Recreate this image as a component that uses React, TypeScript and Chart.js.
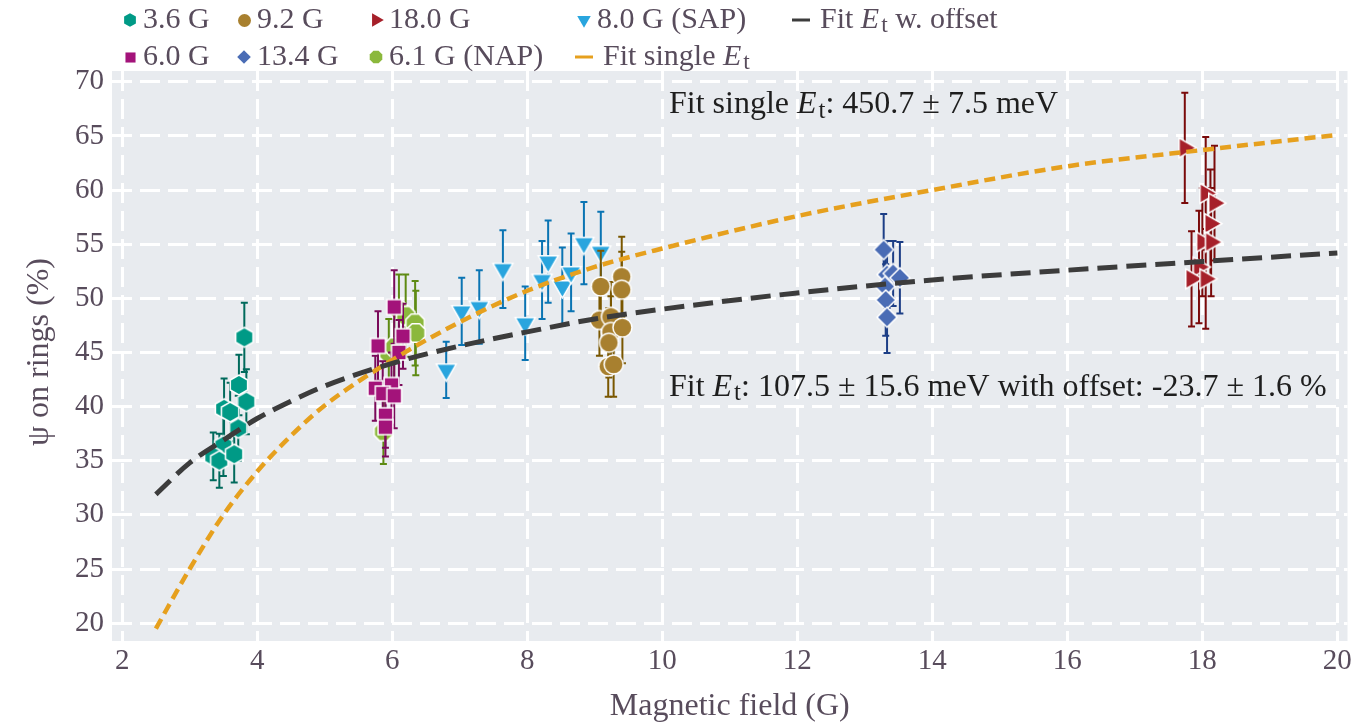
import React, { useEffect, useRef } from 'react';
import { Chart, registerables } from 'chart.js';

Chart.register(...registerables);

const FONT = "'Liberation Serif', 'DejaVu Serif', serif";
const TXT = '#584c5c';

const xTicks = [2, 4, 6, 8, 10, 12, 14, 16, 18, 20];
const yTicks = [20, 25, 30, 35, 40, 45, 50, 55, 60, 65, 70];

// 3.6 G
const g36X = [3.81, 3.73, 3.84, 3.51, 3.6, 3.72, 3.5, 3.35, 3.44, 3.66];
const g36Y = [46.4, 42.0, 40.45, 39.8, 39.5, 38.0, 36.4, 35.4, 35.0, 35.6];
const g36Err = [3.2, 2.8, 3.0, 2.8, 2.7, 3.0, 2.8, 2.2, 2.5, 2.6];
// 6.0 G
const g60X = [6.03, 6.16, 5.79, 6.1, 5.75, 5.99, 5.86, 6.03, 5.9, 5.9];
const g60Y = [49.2, 46.5, 45.6, 45.0, 41.7, 42.0, 41.2, 41.0, 39.2, 38.1];
const g60Err = [3.4, 3.0, 3.2, 3.0, 3.0, 3.0, 3.0, 3.0, 3.0, 2.7];
// 9.2 G
const g92X = [9.09, 9.4, 9.4, 9.07, 9.24, 9.24, 9.41, 9.21, 9.2, 9.28];
const g92Y = [51.1, 52.0, 50.8, 48.0, 48.3, 46.9, 47.3, 45.9, 43.7, 43.9];
const g92Err = [3.3, 3.7, 3.5, 3.3, 3.2, 3.3, 3.3, 3.2, 2.8, 3.0];
// 13.4 G
const g134X = [13.28, 13.33, 13.42, 13.52, 13.3, 13.31, 13.33];
const g134Y = [54.5, 52.2, 52.3, 51.9, 51.1, 49.85, 48.25];
const g134Err = [3.3, 3.1, 3.0, 3.3, 3.2, 3.3, 3.3];
// 18.0 G
const g180X = [17.74, 18.05, 18.18, 18.12, 18.0, 18.13, 17.95, 17.84, 18.05];
const g180Y = [63.9, 59.7, 58.8, 56.9, 55.2, 55.2, 52.9, 51.8, 51.8];
const g180Err = [5.1, 5.2, 5.3, 5.0, 5.0, 5.0, 5.2, 4.4, 4.6];
// 6.1 G (NAP)
const napX = [5.87, 5.95, 6.03, 6.1, 6.2, 6.34, 6.35];
const napY = [37.7, 44.9, 45.5, 48.9, 48.4, 47.7, 46.8];
const napErr = [3.0, 3.2, 3.0, 3.3, 3.8, 3.9, 3.9];
// 8.0 G (SAP)
const sapX = [6.8, 7.03, 7.29, 7.64, 7.97, 8.22, 8.31, 8.52, 8.65, 8.84, 9.09];
const sapY = [43.4, 48.8, 49.2, 52.7, 47.7, 51.7, 53.4, 51.1, 52.4, 55.1, 54.3];
const sapErr = [2.6, 3.1, 3.4, 3.6, 3.4, 3.6, 3.8, 3.6, 3.6, 3.8, 3.7];

// Fit curves
const fitX = [2.5, 3, 3.5, 4, 4.5, 5, 6, 7, 8, 9, 10, 12, 14, 16, 18, 20];
const fitOffsetY = [31.9, 34.8, 36.9, 38.9, 40.5, 41.9, 44.0, 45.6, 46.9, 48.1, 49.0, 50.5, 51.7, 52.6, 53.4, 54.2];
const fitSingleY = [19.5, 25.0, 30.0, 34.0, 37.3, 40.1, 44.3, 47.8, 50.7, 52.9, 54.6, 57.6, 60.0, 62.2, 63.7, 65.1];

function sprite(shape: string, fill: string, r: number, border = 1.5): HTMLCanvasElement {
  const pad = 2;
  const s = Math.ceil(2 * r + 2 * pad);
  const c = document.createElement('canvas');
  c.width = s;
  c.height = s;
  const ctx = c.getContext('2d') as CanvasRenderingContext2D;
  const cx = s / 2;
  const cy = s / 2;
  ctx.beginPath();
  const poly = (n: number, rot: number, rr: number) => {
    for (let i = 0; i < n; i++) {
      const a = rot + (i * 2 * Math.PI) / n;
      const px = cx + rr * Math.cos(a);
      const py = cy + rr * Math.sin(a);
      if (i === 0) ctx.moveTo(px, py);
      else ctx.lineTo(px, py);
    }
    ctx.closePath();
  };
  switch (shape) {
    case 'hex':
      poly(6, -Math.PI / 2, r);
      break;
    case 'oct':
      poly(8, Math.PI / 8, r);
      break;
    case 'circle':
      ctx.arc(cx, cy, r, 0, Math.PI * 2);
      break;
    case 'square':
      ctx.rect(cx - r * 0.78, cy - r * 0.78, r * 1.56, r * 1.56);
      break;
    case 'diamond':
      poly(4, -Math.PI / 2, r);
      break;
    case 'triRight':
      poly(3, 0, r);
      break;
    case 'triDown':
      poly(3, Math.PI / 2, r);
      break;
  }
  ctx.fillStyle = fill;
  ctx.fill();
  if (border > 0) {
    ctx.strokeStyle = '#ffffff';
    ctx.lineWidth = border;
    ctx.stroke();
  }
  return c;
}

type Series = {
  label: string;
  xs: number[];
  ys: number[];
  errs: number[];
  shape: string;
  color: string;
  errColor: string;
  r: number;
  order: number;
};

const series: Series[] = [
  { label: '3.6 G', xs: g36X, ys: g36Y, errs: g36Err, shape: 'hex', color: '#009a86', errColor: '#006a5c', r: 10, order: 5 },
  { label: '6.0 G', xs: g60X, ys: g60Y, errs: g60Err, shape: 'square', color: '#a3137a', errColor: '#7a0a5a', r: 9.5, order: 4 },
  { label: '9.2 G', xs: g92X, ys: g92Y, errs: g92Err, shape: 'circle', color: '#a8802f', errColor: '#7a5700', r: 9.5, order: 3 },
  { label: '13.4 G', xs: g134X, ys: g134Y, errs: g134Err, shape: 'diamond', color: '#4a6cb5', errColor: '#1c3e86', r: 10, order: 2 },
  { label: '18.0 G', xs: g180X, ys: g180Y, errs: g180Err, shape: 'triRight', color: '#a6202a', errColor: '#7a0a0a', r: 11.5, order: 1 },
  { label: '6.1 G (NAP)', xs: napX, ys: napY, errs: napErr, shape: 'oct', color: '#8bb83c', errColor: '#5d8a12', r: 10, order: 7 },
  { label: '8.0 G (SAP)', xs: sapX, ys: sapY, errs: sapErr, shape: 'triDown', color: '#29a5de', errColor: '#0a74b3', r: 11.5, order: 6 },
];

const OFFSET_COLOR = '#3c3c3c';
const SINGLE_COLOR = '#e6a01e';

type Part = { t: string; it?: boolean; sub?: boolean };

function drawRich(ctx: CanvasRenderingContext2D, parts: Part[], x: number, y: number, size: number, color: string) {
  ctx.save();
  ctx.fillStyle = color;
  ctx.textBaseline = 'middle';
  ctx.textAlign = 'left';
  let cx = x;
  for (const p of parts) {
    const sz = p.sub ? size * 0.78 : size;
    ctx.font = `${p.it ? 'italic ' : ''}${sz}px ${FONT}`;
    ctx.fillText(p.t, cx, p.sub ? y + size * 0.2 : y);
    cx += ctx.measureText(p.t).width + (p.it ? 2 : 0);
  }
  ctx.restore();
}

const bgPlugin = {
  id: 'bgArea',
  beforeDraw(chart: any) {
    const { ctx, chartArea: a } = chart;
    ctx.save();
    ctx.fillStyle = '#e8ebef';
    ctx.fillRect(a.left, a.top, a.right - a.left, a.bottom - a.top);
    ctx.restore();
  },
};

const errPlugin = {
  id: 'errBars',
  beforeDatasetDraw(chart: any, args: any) {
    const ds = chart.data.datasets[args.index];
    if (!ds.errors) return;
    const { ctx, chartArea: a } = chart;
    const ys = chart.scales.y;
    ctx.save();
    ctx.beginPath();
    ctx.rect(a.left, a.top, a.right - a.left, a.bottom - a.top);
    ctx.clip();
    ctx.strokeStyle = ds.errColor;
    ctx.lineWidth = 2;
    args.meta.data.forEach((pt: any, i: number) => {
      const v = ds.data[i].y;
      const e = ds.errors[i];
      const x = pt.x;
      const y1 = ys.getPixelForValue(v + e);
      const y2 = ys.getPixelForValue(v - e);
      ctx.beginPath();
      ctx.moveTo(x, y1);
      ctx.lineTo(x, y2);
      ctx.moveTo(x - 3.5, y1);
      ctx.lineTo(x + 3.5, y1);
      ctx.moveTo(x - 3.5, y2);
      ctx.lineTo(x + 3.5, y2);
      ctx.stroke();
    });
    ctx.restore();
  },
};

const legendCols = [122, 236, 368, 576, 793];
const legendRows = [12, 49];

const overlayPlugin = {
  id: 'overlay',
  afterDraw(chart: any) {
    const { ctx, chartArea: a } = chart;
    const xs = chart.scales.x;
    const ys = chart.scales.y;
    // axis titles
    ctx.save();
    ctx.fillStyle = TXT;
    ctx.font = `32px ${FONT}`;
    ctx.textAlign = 'center';
    ctx.textBaseline = 'middle';
    ctx.fillText('Magnetic field (G)', (a.left + a.right) / 2, 699);
    ctx.translate(32, (a.top + a.bottom) / 2 - 4);
    ctx.rotate(-Math.PI / 2);
    ctx.fillText('ψ on rings (%)', 0, 0);
    ctx.restore();

    // annotations
    drawRich(
      ctx,
      [{ t: 'Fit single ' }, { t: 'E', it: true }, { t: 't', sub: true }, { t: ': 450.7 ± 7.5 meV' }],
      xs.getPixelForValue(10.1),
      ys.getPixelForValue(67.9),
      32,
      '#1e1e1e'
    );
    drawRich(
      ctx,
      [{ t: 'Fit ' }, { t: 'E', it: true }, { t: 't', sub: true }, { t: ': 107.5 ± 15.6 meV with offset: -23.7 ± 1.6 %' }],
      xs.getPixelForValue(10.1),
      ys.getPixelForValue(41.8),
      32,
      '#1e1e1e'
    );

    // legend (column-major, 2 rows)
    const items: any[] = [
      ...series.map((s) => ({ kind: 'm', s })),
      { kind: 'l', color: OFFSET_COLOR, parts: [{ t: 'Fit ' }, { t: 'E', it: true }, { t: 't', sub: true }, { t: ' w. offset' }] },
      { kind: 'l', color: SINGLE_COLOR, parts: [{ t: 'Fit single ' }, { t: 'E', it: true }, { t: 't', sub: true }] },
    ];
    const place = [
      [0, 0], [0, 1], [1, 0], [1, 1], [2, 0], [2, 1], [3, 0], [4, 0], [3, 1],
    ];
    items.forEach((it, i) => {
      const [c, r] = place[i];
      const cx = legendCols[c];
      const cy = legendRows[r];
      if (it.kind === 'm') {
        const sp = sprite(it.s.shape, it.s.color, it.s.r * 0.68, 0);
        ctx.drawImage(sp, Math.round(cx - sp.width / 2), Math.round(cy - sp.height / 2));
        drawRich(ctx, [{ t: it.s.label }], cx + 13, cy, 30, TXT);
      } else {
        ctx.save();
        ctx.strokeStyle = it.color;
        ctx.lineWidth = 3;
        ctx.beginPath();
        ctx.moveTo(cx - 9, cy);
        ctx.lineTo(cx + 9, cy);
        ctx.stroke();
        ctx.restore();
        drawRich(ctx, it.parts, cx + 19, cy, 30, TXT);
      }
    });
  },
};

export default function App() {
  const ref = useRef<HTMLCanvasElement>(null);
  useEffect(() => {
    if (!ref.current) return;
    const markerSets = series.map((s) => ({
      type: 'scatter' as const,
      label: s.label,
      data: s.xs.map((x, i) => ({ x, y: s.ys[i] })),
      errors: s.errs,
      errColor: s.errColor,
      pointStyle: sprite(s.shape, s.color, s.r),
      pointRadius: s.r,
      pointHoverRadius: s.r,
      showLine: false,
      order: s.order,
    }));
    const lineSets = [
      {
        type: 'scatter' as const,
        label: 'Fit E_t w. offset',
        data: fitX.map((x, i) => ({ x, y: fitOffsetY[i] })),
        showLine: true,
        borderColor: OFFSET_COLOR,
        borderWidth: 5,
        borderDash: [20, 9],
        pointRadius: 0,
        cubicInterpolationMode: 'monotone',
        fill: false,
        order: 0,
      },
      {
        type: 'scatter' as const,
        label: 'Fit single E_t',
        data: fitX.map((x, i) => ({ x, y: fitSingleY[i] })),
        showLine: true,
        borderColor: SINGLE_COLOR,
        borderWidth: 4.5,
        borderDash: [11, 6],
        pointRadius: 0,
        cubicInterpolationMode: 'monotone',
        fill: false,
        order: 0,
      },
    ];
    const tickFont = { family: FONT, size: 29 };
    const chart = new Chart(ref.current, {
      type: 'scatter',
      data: { datasets: [...markerSets, ...lineSets] as any },
      options: {
        animation: false,
        responsive: false,
        devicePixelRatio: 1,
        layout: { padding: { top: 63, right: 10, left: 0, bottom: 0 } },
        plugins: { legend: { display: false }, tooltip: { enabled: false } },
        scales: {
          x: {
            type: 'linear',
            min: 1.85,
            max: 20.15,
            afterBuildTicks: (s: any) => {
              s.ticks = xTicks.map((v) => ({ value: v }));
            },
            afterFit: (s: any) => {
              s.height = 83;
            },
            grid: { color: '#ffffff', lineWidth: 3, drawTicks: false },
            border: { display: false, dash: [20, 8] },
            ticks: { font: tickFont, color: TXT, padding: 3, maxRotation: 0 },
          },
          y: {
            type: 'linear',
            min: 18.35,
            max: 71,
            afterBuildTicks: (s: any) => {
              s.ticks = yTicks.map((v) => ({ value: v }));
            },
            afterFit: (s: any) => {
              s.width = 104;
            },
            grid: { color: '#ffffff', lineWidth: 3, drawTicks: false },
            border: { display: false, dash: [20, 8] },
            ticks: { font: tickFont, color: TXT, padding: 8 },
          },
        },
      } as any,
      plugins: [bgPlugin, errPlugin, overlayPlugin],
    });
    return () => chart.destroy();
  }, []);
  return <canvas ref={ref} width={1352} height={716} style={{ display: 'block' }} />;
}
